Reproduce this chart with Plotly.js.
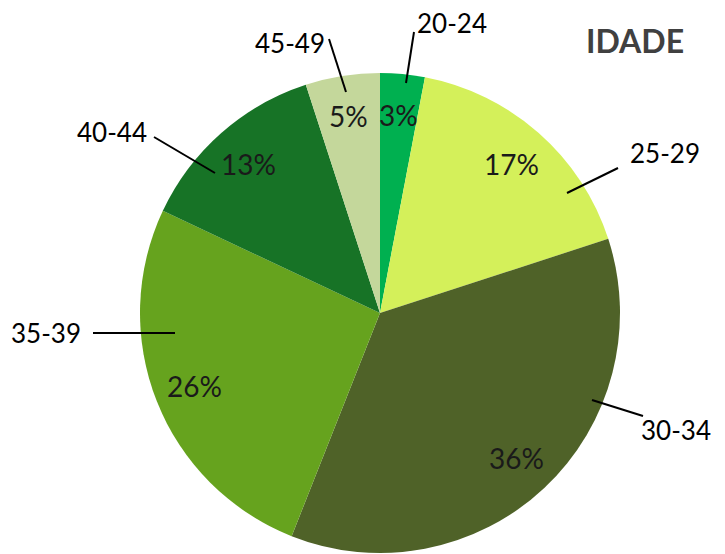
<!DOCTYPE html>
<html><head><meta charset="utf-8">
<script src="https://cdn.plot.ly/plotly-3.0.1.min.js"></script>
<style>html,body{margin:0;padding:0;background:#fff}</style>
</head><body><div id="chart" style="width:725px;height:554px"></div>
<script>
const categories = ["20-24", "25-29", "30-34", "35-39", "40-44", "45-49"];
const values = [3, 17, 36, 26, 13, 5];
const colors = ["#00b050", "#d4f05a", "#4f6228", "#66a31e", "#177326", "#c4d79b"];
const chartTitle = "IDADE";

const W = 725, H = 554;
const cx = 380, cy = 313, R = 240;
const px = x => x / W, py = y => 1 - y / H;

// outside label text centres and leader lines (layout only)
const labelPos = [
  {t:[452,23],  l:[[406,83],[414,32]]},
  {t:[665,153], l:[[567,193],[618,168]]},
  {t:[676,430], l:[[592,400],[643,416]]},
  {t:[46,333],  l:[[175,333],[93,333]]},
  {t:[112,132], l:[[215,173],[154,137]]},
  {t:[290,43],  l:[[346,92],[329,39]]}
];

const total = values.reduce((a,b)=>a+b,0);
const annotations = [];
const shapes = [];
let cum = 0;
const rText = 0.83 * R;
values.forEach((v,i)=>{
  const mid = (cum + v/2) / total * 2 * Math.PI;
  cum += v;
  const x = cx + rText * Math.sin(mid);
  const y = cy - rText * Math.cos(mid);
  annotations.push({x:px(x), y:py(y), xref:'paper', yref:'paper', showarrow:false,
    text: Math.round(v/total*100) + '%', font:{family:'Lato, "Open Sans", sans-serif', size:28, color:'#1a1a1a'},
    xanchor:'center', yanchor:'middle'});
  const lp = labelPos[i];
  annotations.push({x:px(lp.t[0]), y:py(lp.t[1]), xref:'paper', yref:'paper', showarrow:false,
    text: categories[i], font:{family:'Lato, "Open Sans", sans-serif', size:26, color:'#000'},
    xanchor:'center', yanchor:'middle'});
  shapes.push({type:'line', xref:'paper', yref:'paper',
    x0:px(lp.l[0][0]), y0:py(lp.l[0][1]), x1:px(lp.l[1][0]), y1:py(lp.l[1][1]),
    line:{color:'#000', width:2}});
});

annotations.push({x:px(635), y:py(40), xref:'paper', yref:'paper', showarrow:false,
  text:'<b>'+chartTitle+'</b>', font:{family:'Lato, "Open Sans", sans-serif', size:32, color:'#404040'},
  xanchor:'center', yanchor:'middle'});

const data = [{
  type:'pie', labels:categories, values:values, sort:false, direction:'clockwise', rotation:0,
  marker:{colors:colors, line:{width:0}}, textinfo:'none', hoverinfo:'none',
  domain:{x:[px(cx-R), px(cx+R)], y:[py(cy+R), py(cy-R)]}
}];

const layout = {
  width:W, height:H, margin:{l:0,r:0,t:0,b:0}, showlegend:false,
  paper_bgcolor:'#fff', annotations:annotations, shapes:shapes
};
Plotly.newPlot('chart', data, layout, {displayModeBar:false, staticPlot:true});
</script></body></html>
